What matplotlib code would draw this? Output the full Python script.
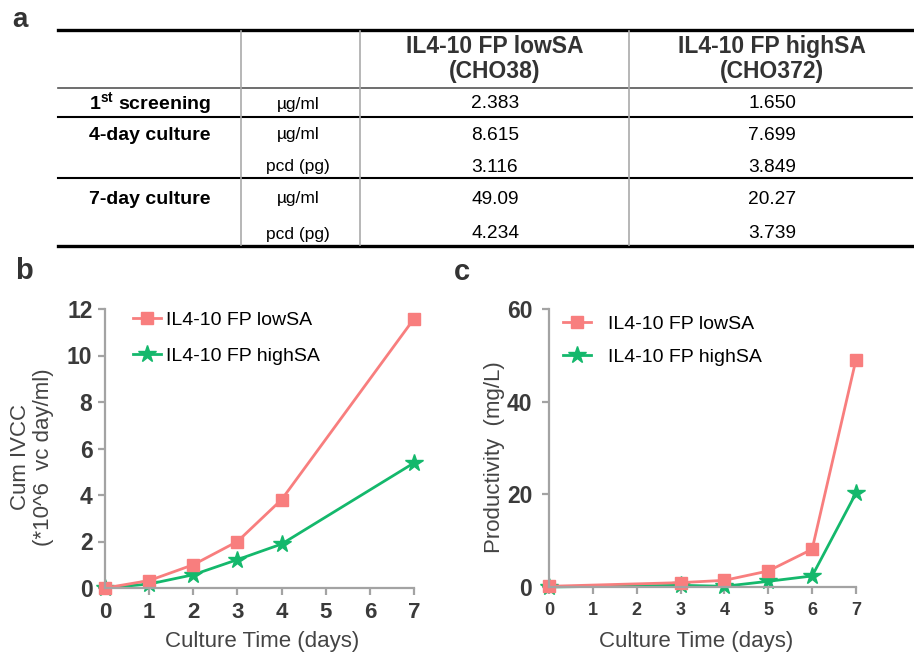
import matplotlib
matplotlib.use("Agg")
import matplotlib.pyplot as plt

plt.rcParams['font.family'] = ['Liberation Sans', 'DejaVu Sans']
plt.rcParams['mathtext.fontset'] = 'custom'
plt.rcParams['mathtext.rm'] = 'Liberation Sans'
plt.rcParams['mathtext.bf'] = 'Liberation Sans:bold'

# table data
row_labels = ["1$^{\\mathbf{st}}$ screening", "4-day culture", "", "7-day culture", ""]
units = ["µg/ml", "µg/ml", "pcd (pg)", "µg/ml", "pcd (pg)"]
low_vals = ["2.383", "8.615", "3.116", "49.09", "4.234"]
high_vals = ["1.650", "7.699", "3.849", "20.27", "3.739"]
col_headers = ["IL4-10 FP lowSA\n(CHO38)", "IL4-10 FP highSA\n(CHO372)"]

# panel b: cumulative IVCC
ivcc_days = [0, 1, 2, 3, 4, 7]
ivcc_low = [0, 0.32, 1.0, 2.0, 3.8, 11.58]
ivcc_high = [0, 0.17, 0.57, 1.22, 1.89, 5.38]

# panel c: productivity
prod_days = [0, 3, 4, 5, 6, 7]
prod_low = [0.15, 0.94, 1.44, 3.46, 8.15, 49.09]
prod_high = [0, 0.36, 0.15, 1.23, 2.38, 20.27]

series_names = ["IL4-10 FP lowSA", "IL4-10 FP highSA"]
red = "#F87E7E"
green = "#14B86C"
spine_col = "#A3A3A3"
dark = "#3a3a3a"

W, H = 914, 658
fig = plt.figure(figsize=(W / 100, H / 100), dpi=100)


def fx(x):
    return x / W


def fy(y):
    return 1 - y / H


# ---- table (pixel layout) ----
tab = fig.add_axes([0, 0, 1, 1])
tab.set_xlim(0, W)
tab.set_ylim(H, 0)
tab.axis("off")

x0, x1 = 58, 912
vx = [241, 360, 629]
tab.plot([x0, x1], [30, 30], color="black", lw=2.4)
tab.plot([x0, x1], [88, 88], color="#555555", lw=1.2)
tab.plot([x0, x1], [117, 117], color="black", lw=1.5)
tab.plot([x0, x1], [178, 178], color="black", lw=1.5)
tab.plot([x0, x1], [246, 246], color="black", lw=2.4)
for v in vx:
    tab.plot([v, v], [31, 245], color="#AAAAAA", lw=1.2)

col_cx = [150, 298, 495, 772]
row_y = [104, 135, 167, 199, 234]
tab.text(col_cx[2], 59, col_headers[0], ha="center", va="center", fontsize=16.5,
         fontweight="bold", color="#333333", linespacing=1.15)
tab.text(col_cx[3], 59, col_headers[1], ha="center", va="center", fontsize=16.5,
         fontweight="bold", color="#333333", linespacing=1.15)
for i in range(len(units)):
    if row_labels[i]:
        tab.text(col_cx[0], row_y[i], row_labels[i], ha="center", va="center",
                 fontsize=14, fontweight="bold", color="black")
    tab.text(col_cx[1], row_y[i], units[i], ha="center", va="center", fontsize=12.5)
    tab.text(col_cx[2], row_y[i], low_vals[i], ha="center", va="center", fontsize=13.8)
    tab.text(col_cx[3], row_y[i], high_vals[i], ha="center", va="center", fontsize=13.8)

# panel letters
fig.text(fx(20), fy(20), "a", ha="center", va="center", fontsize=20, fontweight="bold", color="#333333")
fig.text(fx(24), fy(271), "b", ha="center", va="center", fontsize=21, fontweight="bold", color="#333333")
fig.text(fx(462), fy(272), "c", ha="center", va="center", fontsize=21, fontweight="bold", color="#333333")


def style_axes(ax, tick_x_size, pad_x, pad_y):
    for s in ["top", "right"]:
        ax.spines[s].set_visible(False)
    for s in ["left", "bottom"]:
        ax.spines[s].set_color(spine_col)
        ax.spines[s].set_linewidth(1.6)
    ax.tick_params(axis="both", colors=spine_col, length=5, width=1.6)
    ax.tick_params(axis="x", labelcolor=dark, labelsize=tick_x_size, pad=pad_x)
    ax.tick_params(axis="y", labelcolor=dark, labelsize=16.5, pad=pad_y)
    for lab in ax.get_xticklabels() + ax.get_yticklabels():
        lab.set_fontweight("bold")


# ---- panel b ----
axb = fig.add_axes([fx(105), fy(588), (414 - 105) / W, (588 - 309) / H])
axb.plot(ivcc_days, ivcc_high, color=green, lw=2, marker="*", ms=13, label=series_names[1], clip_on=False)
axb.plot(ivcc_days, ivcc_low, color=red, lw=2, marker="s", ms=8, label=series_names[0], clip_on=False)
axb.set_xlim(0, 7)
axb.set_ylim(0, 12)
axb.set_xticks(range(8))
axb.set_yticks(range(0, 13, 2))
style_axes(axb, 16, 5, 4)
h, l = axb.get_legend_handles_labels()
axb.legend(h[::-1], l[::-1], loc="upper left", bbox_to_anchor=(fx(133), fy(311)),
           bbox_transform=fig.transFigure, frameon=False, fontsize=14,
           handlelength=1.45, handletextpad=0.25, labelspacing=0.95,
           borderpad=0, borderaxespad=0)
fig.text(fx(32), fy(457), "Cum IVCC\n(*10^6  vc day/ml)", rotation=90, ha="center", va="center",
         fontsize=16, color="#444444", linespacing=1.15)
fig.text(fx(262), fy(642), "Culture Time (days)", ha="center", va="center", fontsize=16, color="#444444")

# ---- panel c ----
axc = fig.add_axes([fx(549), fy(587), (856 - 549) / W, (587 - 309) / H])
axc.plot(prod_days, prod_high, color=green, lw=2, marker="*", ms=13, label=series_names[1], clip_on=False)
axc.plot(prod_days, prod_low, color=red, lw=2, marker="s", ms=8, label=series_names[0], clip_on=False)
axc.set_xlim(0, 7)
axc.set_ylim(0, 60)
axc.set_xticks(range(8))
axc.set_yticks(range(0, 61, 20))
style_axes(axc, 13, 6, 7)
h, l = axc.get_legend_handles_labels()
axc.legend(h[::-1], l[::-1], loc="upper left", bbox_to_anchor=(fx(563), fy(315)),
           bbox_transform=fig.transFigure, frameon=False, fontsize=14,
           handlelength=1.45, handletextpad=0.85, labelspacing=0.8,
           borderpad=0, borderaxespad=0)
fig.text(fx(494), fy(457), "Productivity  (mg/L)", rotation=90, ha="center", va="center",
         fontsize=16, color="#444444")
fig.text(fx(696), fy(641), "Culture Time (days)", ha="center", va="center", fontsize=16, color="#444444")

fig.savefig("out.png", dpi=100)
